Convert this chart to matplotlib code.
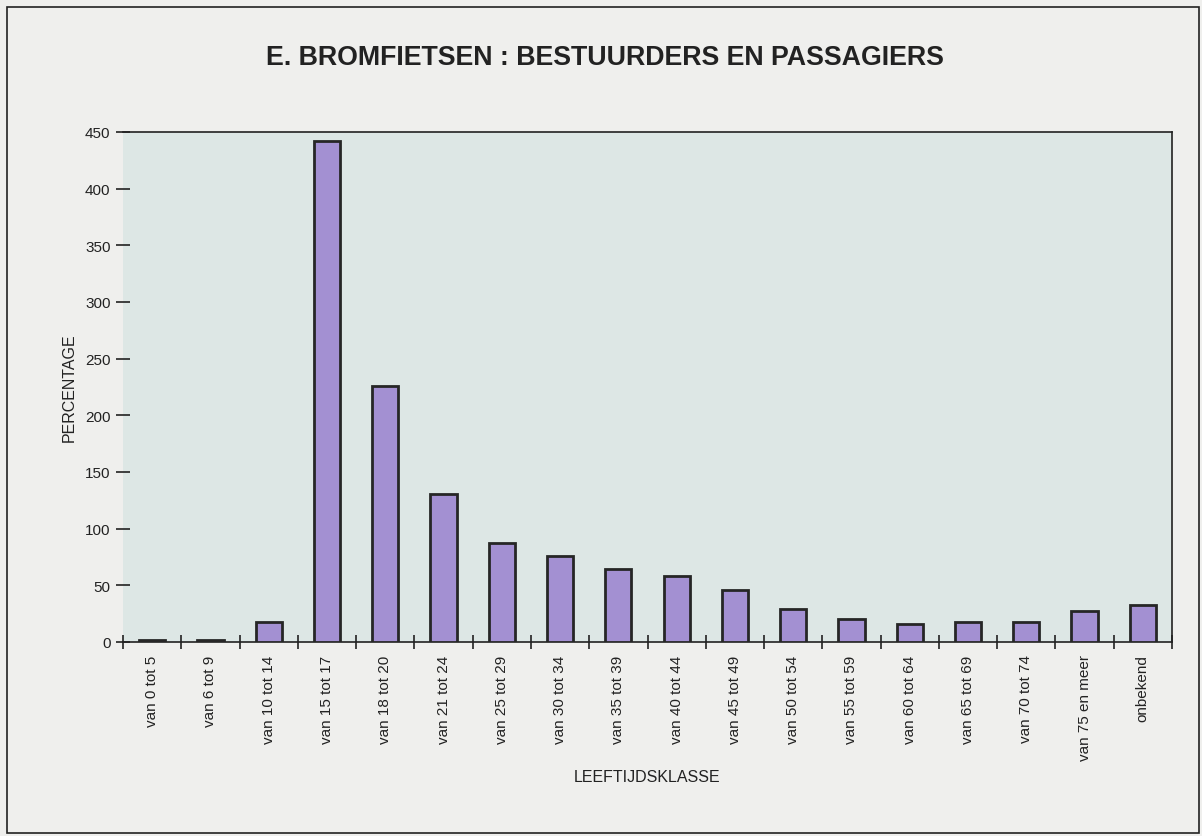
import matplotlib
matplotlib.use("Agg")
import matplotlib.pyplot as plt
from matplotlib.patches import Rectangle
import numpy as np

categories = ["van 0 tot 5", "van 6 tot 9", "van 10 tot 14", "van 15 tot 17",
              "van 18 tot 20", "van 21 tot 24", "van 25 tot 29", "van 30 tot 34",
              "van 35 tot 39", "van 40 tot 44", "van 45 tot 49", "van 50 tot 54",
              "van 55 tot 59", "van 60 tot 64", "van 65 tot 69", "van 70 tot 74",
              "van 75 en meer", "onbekend"]
values = [2, 2, 18, 442, 226, 131, 87, 76, 64, 58, 46, 29, 20, 16, 18, 18, 27, 33]
yticks = [0, 50, 100, 150, 200, 250, 300, 350, 400, 450]

plt.rcParams['font.family'] = ['Liberation Sans', 'DejaVu Sans']

fig = plt.figure(figsize=(12.02, 8.37), dpi=100, facecolor='#efefed')
fig.patches.append(Rectangle((7 / 1202, 3 / 837), 1192 / 1202, 826 / 837,
                             transform=fig.transFigure, fill=False,
                             edgecolor='#222222', linewidth=1.2))

ax = fig.add_axes([123 / 1202, 1 - 643 / 837, 1049 / 1202, 510 / 837])
ax.set_facecolor('#dde7e5')

x = np.arange(len(categories))
ax.bar(x, values, width=0.45, color='#a390d2', edgecolor='#262626', linewidth=2.0, zorder=3)

ax.set_xlim(-0.5, len(categories) - 0.5)
ax.set_ylim(0, 450)
ax.set_yticks(yticks)
ax.tick_params(axis='y', direction='inout', length=10, width=1.2, labelsize=11,
               colors='#222222', pad=4)

ax.set_xticks(x)
ax.set_xticklabels(categories, rotation=90, fontsize=11, color='#222222')
ax.tick_params(axis='x', which='major', length=0, pad=9)
ax.set_xticks(np.arange(len(categories) + 1) - 0.5, minor=True)
ax.tick_params(axis='x', which='minor', direction='inout', length=10, width=1.2,
               colors='#222222')

for side in ['top', 'right', 'bottom']:
    ax.spines[side].set_color('#222222')
    ax.spines[side].set_linewidth(1.2)
ax.spines['left'].set_visible(False)

ax.set_ylabel("PERCENTAGE", fontsize=11.5, color='#222222', labelpad=6)
ax.set_xlabel("LEEFTIJDSKLASSE", fontsize=11.5, color='#222222', labelpad=6)

fig.text(605 / 1202, 1 - 58 / 837, "E. BROMFIETSEN : BESTUURDERS EN PASSAGIERS",
         ha='center', va='center', fontsize=19.3, fontweight='bold', color='#222222')

fig.savefig("out.png", dpi=100, facecolor=fig.get_facecolor())
